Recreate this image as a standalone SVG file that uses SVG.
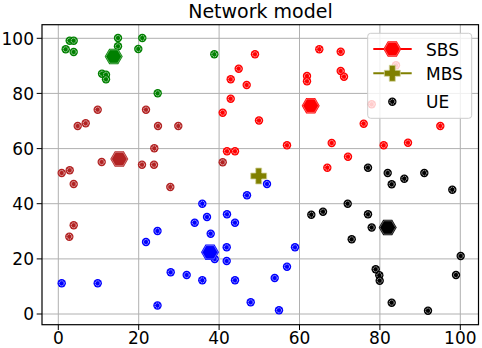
<svg xmlns="http://www.w3.org/2000/svg" xmlns:xlink="http://www.w3.org/1999/xlink" width="482" height="348" viewBox="0 0 482 348">
<style>
text{font-family:"DejaVu Sans","Liberation Sans",sans-serif;fill:#000}
.tick{font-size:17px}
.yl{text-anchor:end}
.xl{text-anchor:middle}
.grid line{stroke:#b0b0b0;stroke-width:1}
.tm line{stroke:#000;stroke-width:1}
</style>
<defs>
<g id="ue"><circle r="4.2" fill="currentColor"/><circle r="2.5" fill="none" stroke="#fff" stroke-width="0.7" stroke-dasharray="1.3 0.7"/></g>
<g id="hex"><path d="M9 0L4.5 7.8H-4.5L-9 0L-4.5 -7.8H4.5Z" fill="currentColor"/><path d="M7.8 0L3.9 6.7H-3.9L-7.8 0L-3.9 -6.7H3.9Z" fill="none" stroke="#fff" stroke-width="0.5" stroke-opacity="0.7"/></g>
<path id="plus" d="M-3 -8H3V-3H8V3H3V8H-3V3H-8V-3H-3Z" fill="#808000" stroke="#d4d4a0" stroke-width="0.8"/>
</defs>
<rect width="482" height="348" fill="#fff"/>
<text x="260.5" y="17.5" font-size="19" text-anchor="middle">Network model</text>
<g class="grid">
<line x1="58.3" y1="24.7" x2="58.3" y2="324.7"/>
<line x1="138.7" y1="24.7" x2="138.7" y2="324.7"/>
<line x1="219.1" y1="24.7" x2="219.1" y2="324.7"/>
<line x1="299.5" y1="24.7" x2="299.5" y2="324.7"/>
<line x1="379.9" y1="24.7" x2="379.9" y2="324.7"/>
<line x1="460.3" y1="24.7" x2="460.3" y2="324.7"/>
<line x1="42" y1="314" x2="478.5" y2="314"/>
<line x1="42" y1="258.9" x2="478.5" y2="258.9"/>
<line x1="42" y1="203.7" x2="478.5" y2="203.7"/>
<line x1="42" y1="148.6" x2="478.5" y2="148.6"/>
<line x1="42" y1="93.4" x2="478.5" y2="93.4"/>
<line x1="42" y1="38.3" x2="478.5" y2="38.3"/>
</g>
<g id="green" style="color:#008000">
<use href="#ue" x="69.7" y="40.7"/><use href="#ue" x="73.7" y="40.7"/><use href="#ue" x="65.7" y="49.3"/><use href="#ue" x="73.7" y="52"/>
<use href="#ue" x="118" y="38"/><use href="#ue" x="118" y="46.3"/>
<use href="#ue" x="102" y="73.7"/><use href="#ue" x="106" y="74.7"/><use href="#ue" x="106" y="79.3"/>
<use href="#ue" x="142.3" y="38"/><use href="#ue" x="138.3" y="49"/><use href="#ue" x="157.7" y="93.3"/><use href="#ue" x="214.3" y="54.3"/>
<use href="#hex" x="113.7" y="56.5"/>
</g>
<g id="red" style="color:#ff0000">
<use href="#ue" x="255" y="54.3"/><use href="#ue" x="238.7" y="68.7"/><use href="#ue" x="230.7" y="79.3"/><use href="#ue" x="246.7" y="85"/>
<use href="#ue" x="230.7" y="98.7"/><use href="#ue" x="222.7" y="112.7"/><use href="#ue" x="259" y="120.5"/><use href="#ue" x="287" y="145.3"/>
<use href="#ue" x="227" y="151.3"/><use href="#ue" x="235" y="151.3"/><use href="#ue" x="319.3" y="49.3"/><use href="#ue" x="340.7" y="51.7"/>
<use href="#ue" x="340.7" y="71"/><use href="#ue" x="344" y="76.7"/><use href="#ue" x="307" y="76"/><use href="#ue" x="307" y="81.3"/>
<use href="#ue" x="363.7" y="123.7"/><use href="#ue" x="440.3" y="126"/><use href="#ue" x="331.7" y="143"/><use href="#ue" x="383.7" y="145.3"/>
<use href="#ue" x="408" y="142.7"/><use href="#ue" x="348" y="156.7"/><use href="#ue" x="327.3" y="167.7"/><use href="#ue" x="396" y="65.3"/>
<use href="#ue" x="371.7" y="104.3"/>
<use href="#hex" x="310.7" y="105.7"/>
</g>
<g id="darkred" style="color:#b22222">
<use href="#ue" x="97.7" y="109.7"/><use href="#ue" x="146" y="109.7"/><use href="#ue" x="77.7" y="126"/><use href="#ue" x="85.7" y="123.3"/>
<use href="#ue" x="158" y="126"/><use href="#ue" x="178.3" y="126"/><use href="#ue" x="154.3" y="148.3"/><use href="#ue" x="101.7" y="162"/>
<use href="#ue" x="142" y="164.7"/><use href="#ue" x="154" y="164.7"/><use href="#ue" x="61.7" y="173"/><use href="#ue" x="69.7" y="170.3"/>
<use href="#ue" x="73.7" y="184"/><use href="#ue" x="73.7" y="225.3"/><use href="#ue" x="69.3" y="236.7"/><use href="#ue" x="222.7" y="162.3"/>
<use href="#ue" x="170.3" y="187"/>
<use href="#hex" x="119.3" y="159"/>
</g>
<g id="blue" style="color:#0000ff">
<use href="#ue" x="267" y="184"/><use href="#ue" x="247" y="195.3"/><use href="#ue" x="202.3" y="203.7"/><use href="#ue" x="207" y="217"/>
<use href="#ue" x="194.7" y="222.7"/><use href="#ue" x="227" y="214.3"/><use href="#ue" x="235" y="222.7"/><use href="#ue" x="210.7" y="233.7"/>
<use href="#ue" x="214.7" y="259"/><use href="#ue" x="226.7" y="247.3"/><use href="#ue" x="226.7" y="261"/><use href="#ue" x="295" y="247.3"/>
<use href="#ue" x="287" y="266.7"/><use href="#ue" x="274.7" y="278"/><use href="#ue" x="170.7" y="272.3"/><use href="#ue" x="186.7" y="275"/>
<use href="#ue" x="202.3" y="280.3"/><use href="#ue" x="235" y="280.3"/><use href="#ue" x="250.7" y="302.3"/><use href="#ue" x="279" y="310.3"/>
<use href="#ue" x="61.7" y="283.3"/><use href="#ue" x="97.7" y="283.3"/><use href="#ue" x="146" y="242"/><use href="#ue" x="157.5" y="231"/>
<use href="#ue" x="157.5" y="305.5"/>
<use href="#hex" x="210" y="252.3"/>
</g>
<g id="black" style="color:#000">
<use href="#ue" x="311.3" y="214.7"/><use href="#ue" x="368" y="167.7"/><use href="#ue" x="387.7" y="173"/><use href="#ue" x="404.3" y="178.7"/>
<use href="#ue" x="424.3" y="173"/><use href="#ue" x="391.7" y="184.3"/><use href="#ue" x="452.3" y="189.7"/><use href="#ue" x="347.7" y="203.7"/>
<use href="#ue" x="323" y="211.7"/><use href="#ue" x="368" y="214.3"/><use href="#ue" x="371.7" y="227.5"/><use href="#ue" x="351.7" y="239.3"/>
<use href="#ue" x="460.7" y="256"/><use href="#ue" x="375.7" y="269.3"/><use href="#ue" x="379.3" y="275.3"/><use href="#ue" x="379.7" y="280.7"/>
<use href="#ue" x="456" y="275"/><use href="#ue" x="391.7" y="302.7"/><use href="#ue" x="428" y="310.7"/>
<use href="#hex" x="387.7" y="227.5"/>
</g>
<g id="mbs"><use href="#plus" x="258.7" y="176"/></g>
<g id="axes">
<rect x="42" y="24.7" width="436.5" height="300" fill="none" stroke="#000" stroke-width="1.2"/>
<g class="tm">
<line x1="58.3" y1="324.7" x2="58.3" y2="330"/>
<line x1="138.7" y1="324.7" x2="138.7" y2="330"/>
<line x1="219.1" y1="324.7" x2="219.1" y2="330"/>
<line x1="299.5" y1="324.7" x2="299.5" y2="330"/>
<line x1="379.9" y1="324.7" x2="379.9" y2="330"/>
<line x1="460.3" y1="324.7" x2="460.3" y2="330"/>
<line x1="36.7" y1="314" x2="42" y2="314"/>
<line x1="36.7" y1="258.9" x2="42" y2="258.9"/>
<line x1="36.7" y1="203.7" x2="42" y2="203.7"/>
<line x1="36.7" y1="148.6" x2="42" y2="148.6"/>
<line x1="36.7" y1="93.4" x2="42" y2="93.4"/>
<line x1="36.7" y1="38.3" x2="42" y2="38.3"/>
</g>
<g class="tick xl">
<text x="58.3" y="344">0</text>
<text x="138.7" y="344">20</text>
<text x="219.1" y="344">40</text>
<text x="299.5" y="344">60</text>
<text x="379.9" y="344">80</text>
<text x="460.3" y="344">100</text>
</g>
<g class="tick yl">
<text x="34" y="320.2">0</text>
<text x="34" y="265.1">20</text>
<text x="34" y="209.9">40</text>
<text x="34" y="154.8">60</text>
<text x="34" y="99.6">80</text>
<text x="34" y="44.5">100</text>
</g>
</g>
<g id="legend">
<rect x="367.7" y="33.3" width="104" height="85" rx="3" fill="#fff" fill-opacity="0.8" stroke="#cccccc" stroke-width="1"/>
<line x1="373.3" y1="49" x2="411.7" y2="49" stroke="#ff0000" stroke-width="2"/>
<use href="#hex" x="392.3" y="49" style="color:#ff0000"/>
<text x="426" y="56" font-size="17">SBS</text>
<line x1="373.3" y1="73.3" x2="411.7" y2="73.3" stroke="#808000" stroke-width="2"/>
<use href="#plus" x="392.3" y="73.3"/>
<text x="426" y="80" font-size="17">MBS</text>
<use href="#ue" x="392.3" y="101.7" style="color:#000"/>
<text x="426" y="108.3" font-size="17">UE</text>
</g>
</svg>
